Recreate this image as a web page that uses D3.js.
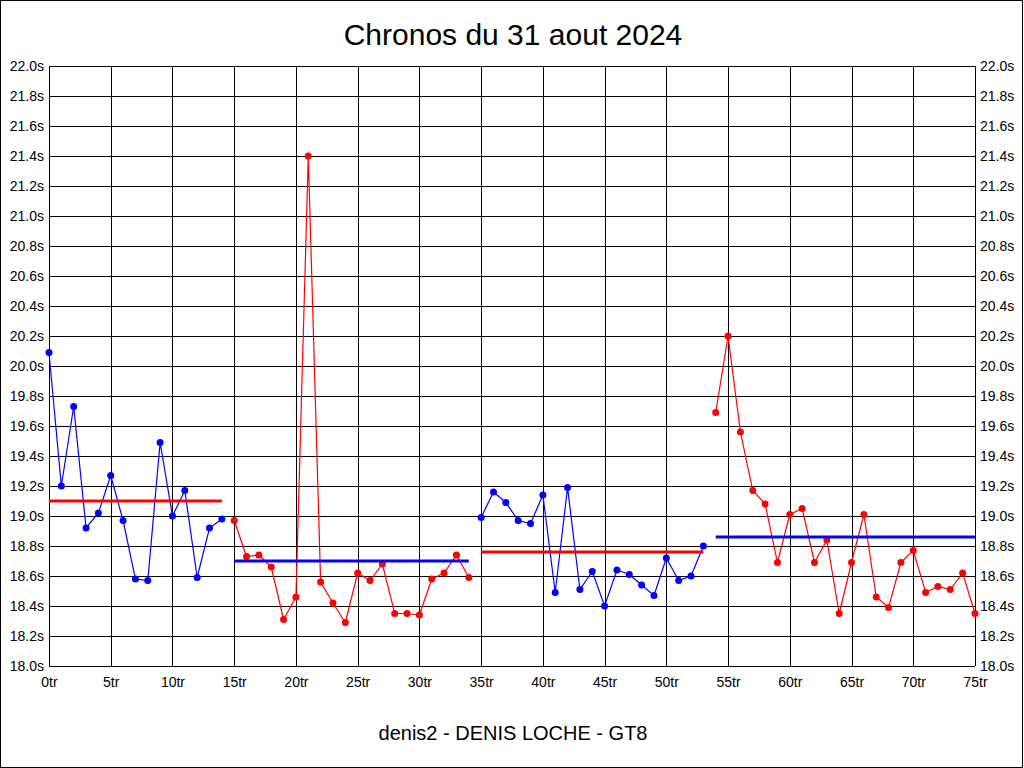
<!DOCTYPE html>
<html><head><meta charset="utf-8">
<script src="https://cdn.jsdelivr.net/npm/d3@7"></script>
<style>body{margin:0;background:#fff}svg{display:block}text{font-family:"Liberation Sans",Arial,sans-serif}</style>
</head><body>
<script>
const title = "Chronos du 31 aout 2024";
const subtitle = "denis2 - DENIS LOCHE - GT8";
const lapTimes = [20.09,19.20,19.73,18.92,19.02,19.27,18.97,18.58,18.57,19.49,19.00,19.17,18.59,18.92,18.98,
  18.97,18.73,18.74,18.66,18.31,18.46,21.40,18.56,18.42,18.29,18.62,18.57,18.68,18.35,18.35,18.34,18.58,18.62,18.74,18.59,
  18.99,19.16,19.09,18.97,18.95,19.14,18.49,19.19,18.51,18.63,18.40,18.64,18.61,18.54,18.47,18.72,18.57,18.60,18.80,
  19.69,20.20,19.56,19.17,19.08,18.69,19.01,19.05,18.69,18.84,18.35,18.69,19.01,18.46,18.39,18.69,18.77,18.49,18.53,18.51,18.62,18.35];
const segStart = [0,15,35,54];
const segEnd = [14,34,53,75];
const segColor = ["#0000ff","#ff0000","#0000ff","#ff0000"];
const segAvg = [19.10,18.70,18.76,18.86];
const avgColor = ["#ff0000","#0000ff","#ff0000","#0000ff"];
const yTicks = d3.range(0,21).map(i=>18+i*0.2);
const xTicks = d3.range(0,76,5);

const W=1024,H=768;
const svg=d3.select("body").append("svg").attr("width",W).attr("height",H);
svg.append("rect").attr("x",0.5).attr("y",0.5).attr("width",W-2).attr("height",H-1).attr("fill","#fff").attr("stroke","#000");
const x=d3.scaleLinear().domain([0,75]).range([49,975]);
const y=d3.scaleLinear().domain([18,22]).range([666,66]);

const g=svg.append("g");
g.selectAll(".hg").data(yTicks).join("line").attr("x1",x(0)).attr("x2",x(75))
 .attr("y1",d=>Math.round(y(d))+0.5).attr("y2",d=>Math.round(y(d))+0.5).attr("stroke","#000").attr("shape-rendering","crispEdges");
g.selectAll(".vg").data(xTicks).join("line").attr("y1",y(18)).attr("y2",y(22))
 .attr("x1",d=>Math.round(x(d))+0.5).attr("x2",d=>Math.round(x(d))+0.5).attr("stroke","#000").attr("shape-rendering","crispEdges");

const axL=d3.axisLeft(y).tickValues(yTicks).tickSize(0).tickPadding(5).tickFormat(d=>d.toFixed(1)+"s");
const axR=d3.axisRight(y).tickValues(yTicks).tickSize(0).tickPadding(5).tickFormat(d=>d.toFixed(1)+"s");
const axB=d3.axisBottom(x).tickValues(xTicks).tickSize(0).tickPadding(11).tickFormat(d=>d+"tr");
[[axL,`translate(${x(0)},0)`],[axR,`translate(${x(75)},0)`],[axB,`translate(0,${y(18)})`]].forEach(([a,t])=>{
  const ag=svg.append("g").attr("transform",t).call(a);
  ag.select(".domain").remove();
  ag.selectAll("text").attr("font-size",14).attr("fill","#000").style("font-family","'Liberation Sans',Arial,sans-serif");
});

segStart.forEach((s,k)=>{
  const idx=d3.range(s,segEnd[k]+1);
  const line=d3.line().x(i=>x(i)).y(i=>y(lapTimes[i]));
  svg.append("path").datum(idx).attr("d",line).attr("fill","none").attr("stroke",segColor[k]).attr("stroke-width",1.2);
  svg.selectAll(null).data(idx).join("circle").attr("cx",i=>x(i)).attr("cy",i=>y(lapTimes[i])).attr("r",3.5).attr("fill",segColor[k]);
  svg.append("line").attr("x1",x(s)).attr("x2",x(segEnd[k])).attr("y1",y(segAvg[k])).attr("y2",y(segAvg[k]))
    .attr("stroke",avgColor[k]).attr("stroke-width",3);
});

svg.append("text").attr("x",513).attr("y",45).attr("text-anchor","middle").attr("font-size",30).text(title);
svg.append("text").attr("x",513).attr("y",740).attr("text-anchor","middle").attr("font-size",20).text(subtitle);
</script>
</body></html>
